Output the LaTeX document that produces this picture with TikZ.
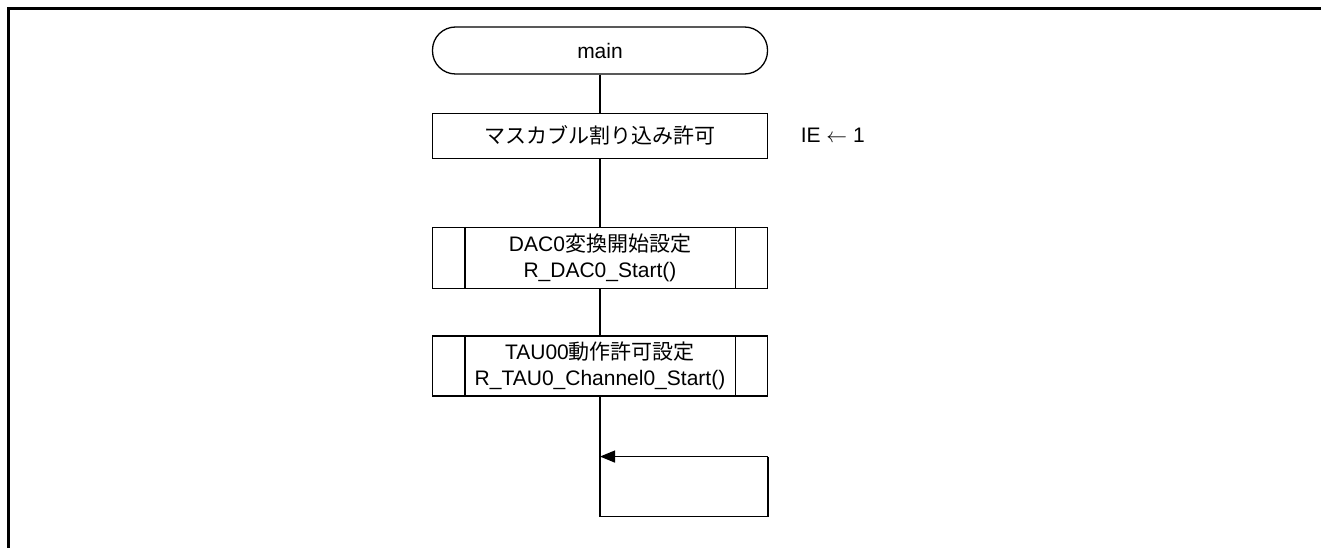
\documentclass[tikz,border=0pt]{standalone}
\usepackage{fontspec}
\setmainfont{Liberation Sans}
\newfontfamily\jp{Noto Sans CJK JP}
\usetikzlibrary{arrows.meta, positioning}

\begin{document}
\begin{tikzpicture}[x=1pt, y=-1pt, font=\fontsize{21}{26}\selectfont, line width=1.3pt]
	\tikzset{
		term/.style={draw, rounded corners=23pt, minimum width=335pt, minimum height=47pt, inner sep=0pt},
		proc/.style={draw, minimum width=335pt, minimum height=45pt, inner sep=0pt, align=center},
		sub/.style={draw, minimum width=335pt, minimum height=61pt, inner sep=0pt, align=center},
		arr/.style={-{Triangle[length=15pt, width=12pt]}}
	}
	\useasboundingbox (0,0) rectangle (1321,548);
	% frame
	\draw[line width=3pt] (1321,8.5) -- (8.5,8.5) -- (8.5,548);
	
	\node[term] (t1) at (600,50.5) {main};
	\node[proc, below=38pt of t1] (p1) {{\jp マスカブル割り込み許可}};
	\node[right=32pt of p1, inner sep=0pt, yshift=1pt] (c1) {IE $\leftarrow$ 1};
	\node[sub, below=68pt of p1] (s1) {DAC0{\jp 変換開始設定}\\R\_DAC0\_Start()};
	\node[sub, minimum height=60pt, below=46pt of s1] (s2) {TAU00{\jp 動作許可設定}\\R\_TAU0\_Channel0\_Start()};
	\foreach \n in {s1, s2} {
		\draw ([xshift=33pt]\n.north west) -- ([xshift=33pt]\n.south west);
		\draw ([xshift=-33pt]\n.north east) -- ([xshift=-33pt]\n.south east);
	}
	
	% endless loop
	\coordinate[below=120pt of s2] (lb);
	\coordinate[right=168pt of lb] (lr);
	\coordinate[above=60pt of lr] (lt);
	\coordinate (la) at (s2.south |- lt);
	
	\draw (t1) -- (p1);
	\draw (p1) -- (s1);
	\draw (s1) -- (s2);
	\draw (s2) -- (lb) -- (lr) -- (lt);
	\draw[arr] (lt) -- (la);
\end{tikzpicture}
\end{document}
